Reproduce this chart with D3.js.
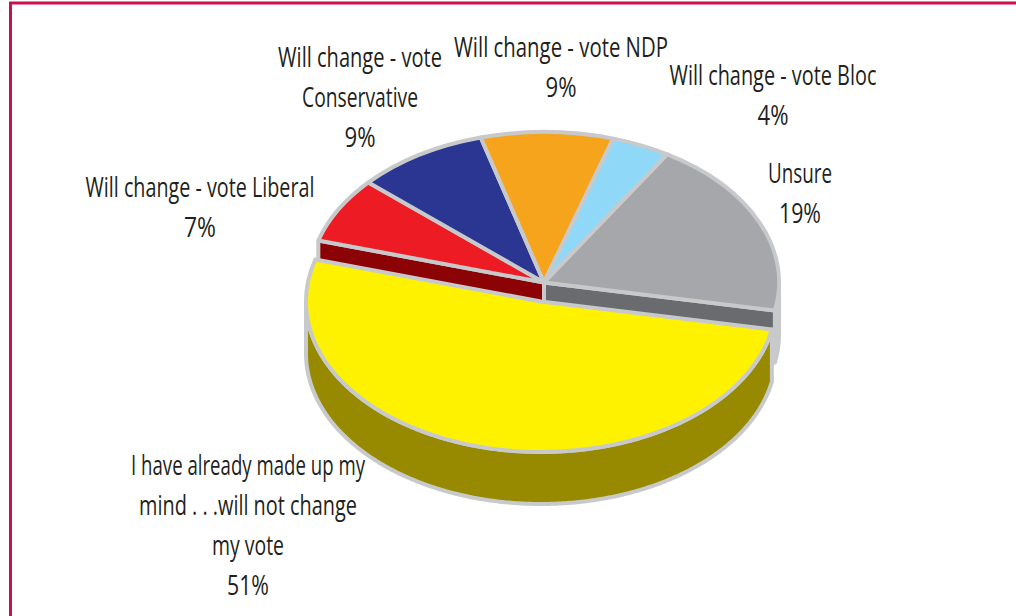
<!DOCTYPE html>
<html>
<head>
<meta charset="utf-8">
<script src="https://cdnjs.cloudflare.com/ajax/libs/d3/7.8.5/d3.min.js"></script>
<style>
html,body{margin:0;padding:0;background:#fff}
svg{display:block}
text{font-family:"Open Sans",sans-serif;font-size:27px;fill:#231f20}
</style>
</head>
<body>
<svg id="chart" width="1016" height="616"></svg>
<script>
// Voting intention shares, clockwise from the Liberal wedge
const categories = ["Will change - vote Liberal","Will change - vote Conservative","Will change - vote NDP","Will change - vote Bloc","Unsure","I have already made up my mind...will not change my vote"];
const values = [7, 9, 9, 4, 19, 51];
const topColors = ["#ed1c24","#2b3692","#f7a41d","#8fd8f8","#a6a7aa","#fff200"];
const cutColors = {0:"#8b0304",4:"#6a6b6e"};
const labelLines = [
  ["Will change - vote Liberal","7%"],
  ["Will change - vote","Conservative","9%"],
  ["Will change - vote NDP","9%"],
  ["Will change - vote Bloc","4%"],
  ["Unsure","19%"],
  ["I have already made up my","mind . . .will not change","my vote","51%"]
];
const labelAnchors = [[200,197],[360,67],[561,57],[773,85],[800,183],[248,475]];
const labelWidths = [[229,32],[164,116,31],[214,31],[207,31],[64,42],[234,218,72,42]];

const svg = d3.select("#chart");
const edge = "#c8c9cb";
const rx = 235, ry = 150.5, depth = 52;
const upper = {x:544, y:282.5};
const lower = {x:541, y:301.5};

// Frame: top and left rules only, the rest runs off the page
svg.append("path").attr("d","M10.5,640V3H1016").attr("fill","none")
  .attr("stroke","#c8104f").attr("stroke-width",3);

// Slices run clockwise from the Liberal wedge; the large wedge closes the circle
const startDeg = 286.2;
const tau = 2*Math.PI;
const pie = d3.pie().sort(null).value(d=>d)
  .startAngle(startDeg*Math.PI/180).endAngle((startDeg+360)*Math.PI/180);
const arcs = pie(values);

// Project a pie angle onto the tilted ellipse
const pt = (c,a,dy=0)=>[c.x+rx*Math.sin(a), c.y-ry*Math.cos(a)+dy];
const line = d3.line();

const big = arcs[5];
const g = svg.append("g").attr("stroke",edge).attr("stroke-width",4).attr("stroke-linejoin","round");

// Outer wall of the upper block, just visible past the big wedge
const uEnd = arcs[4].endAngle - tau;
const wallA = d3.range(Math.PI/2, uEnd, 0.01).concat([uEnd]);
g.append("path").attr("fill",edge)
  .attr("d",line(wallA.map(a=>pt(upper,a)).concat(wallA.slice().reverse().map(a=>pt(upper,a,depth)))) + "Z");

// Cut faces of the upper block, left and right of the centre
[[0,arcs[0].startAngle],[4,uEnd]].forEach(([i,a])=>{
  const p = pt(upper,a);
  g.append("path").attr("fill",cutColors[i])
    .attr("d",line([[upper.x,upper.y],p,[p[0],p[1]+depth],[upper.x,upper.y+depth]])+"Z");
});

// Top faces of the five upper slices
const arc = d3.arc().innerRadius(0).outerRadius(rx);
g.selectAll("path.top").data(arcs.slice(0,5)).join("path").attr("class","top")
  .attr("transform",`translate(${upper.x},${upper.y}) scale(1,${ry/rx})`)
  .attr("vector-effect","non-scaling-stroke")
  .attr("fill",(d,i)=>topColors[i]).attr("d",arc);

// Side wall of the big wedge, front half only
const a0 = big.startAngle - tau, a1 = 1.5*Math.PI;
const wallB = d3.range(a0, a1, 0.01).concat([a1]);
g.append("path").attr("fill","#978a00")
  .attr("d",line(wallB.map(a=>pt(lower,a)).concat(wallB.slice().reverse().map(a=>pt(lower,a,depth))))+"Z");

// Top face of the big wedge
g.append("path").datum(big)
  .attr("transform",`translate(${lower.x},${lower.y}) scale(1,${ry/rx})`)
  .attr("vector-effect","non-scaling-stroke")
  .attr("fill",topColors[5]).attr("d",arc);

// Labels, squeezed horizontally to the set widths
const t = svg.append("g");
labelLines.forEach((lines,i)=>{
  const [x,y]=labelAnchors[i];
  lines.forEach((s,j)=>{
    const el = t.append("text").attr("text-anchor","middle").text(s);
    const k = labelWidths[i][j]/el.node().getComputedTextLength();
    el.attr("transform",`translate(${x},${y+j*40}) scale(${k},1)`);
  });
});
</script>
</body>
</html>
